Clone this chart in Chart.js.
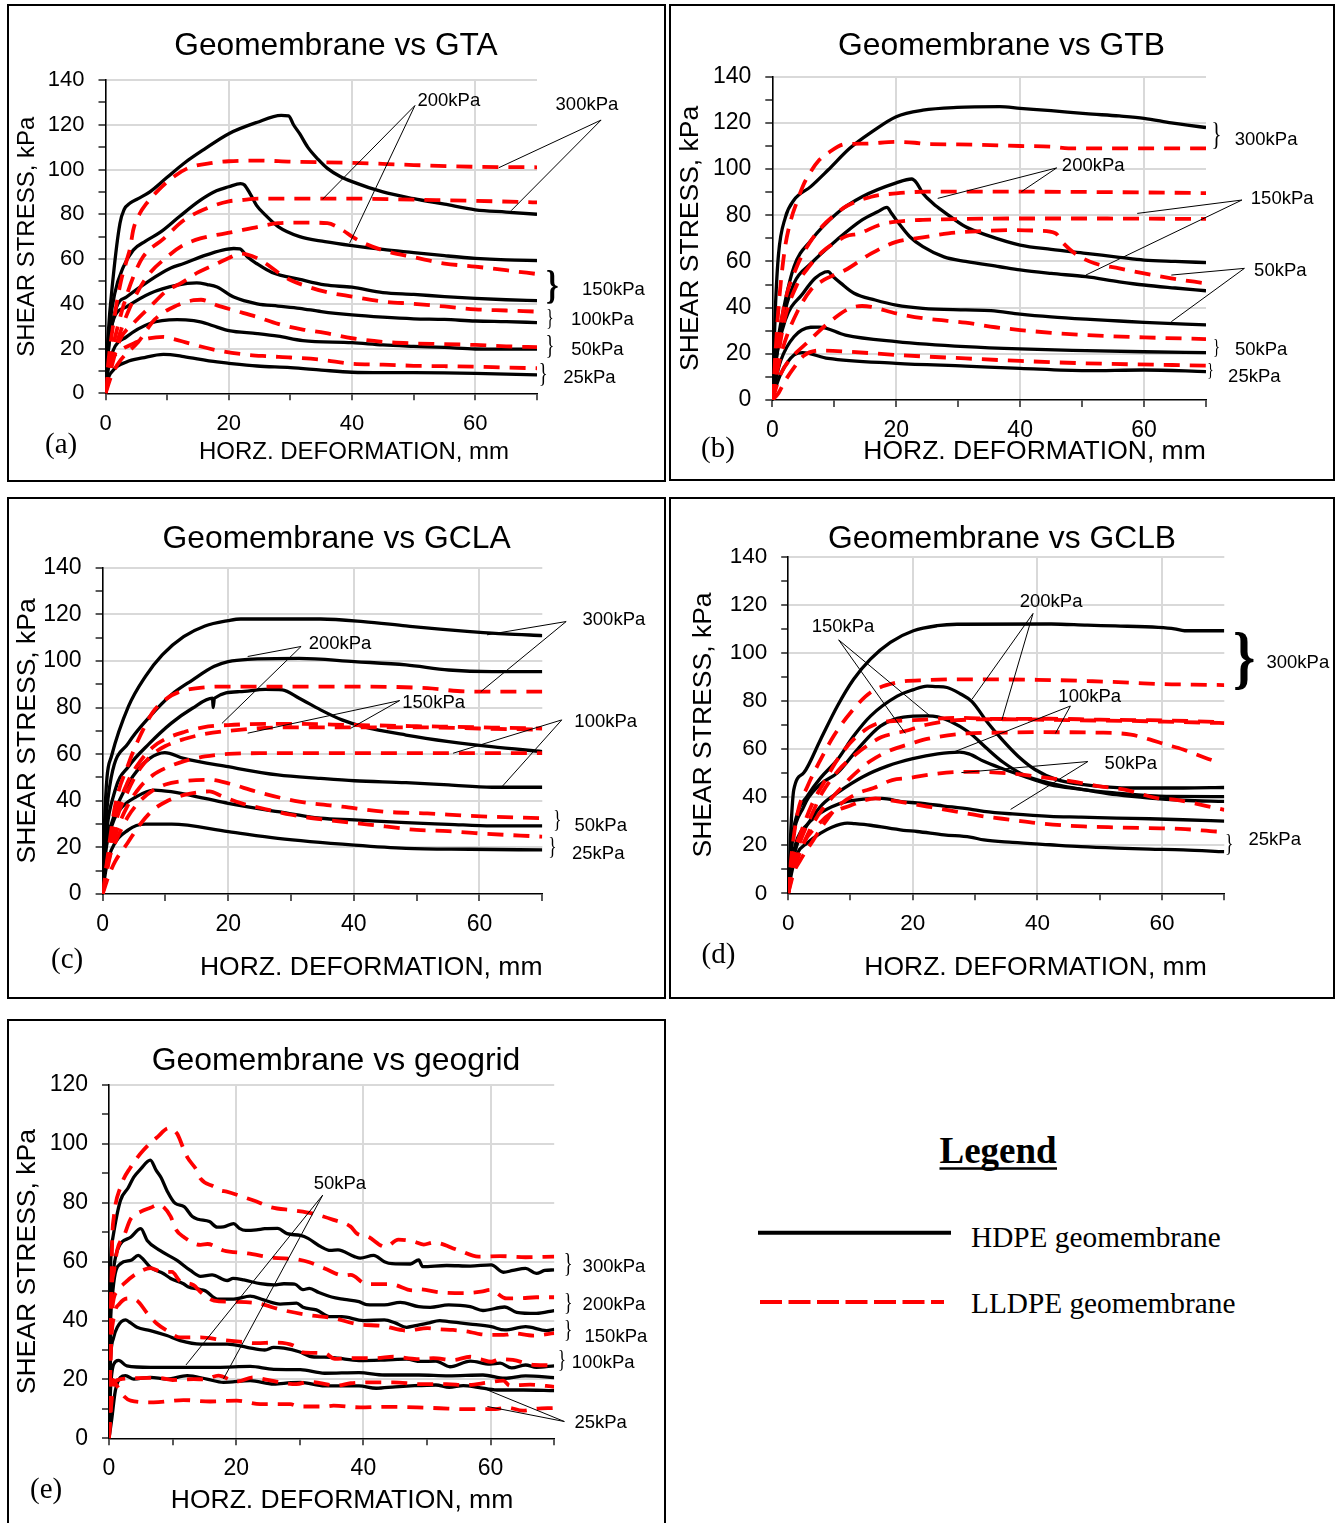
<!DOCTYPE html>
<html>
<head>
<meta charset="utf-8">
<script src="https://cdn.jsdelivr.net/npm/chart.js@4.4.1/dist/chart.umd.min.js"></script>
<style>
  html, body { margin: 0; padding: 0; background: #fff; overflow: hidden; }
  body { width: 1338px; height: 1523px; position: relative; }
  .panel { position: absolute; border: 2px solid #000; box-sizing: border-box; background: #fff; }
  .panel canvas { position: absolute; left: 0; top: 0; }
  #legend { position: absolute; left: 700px; top: 1100px; }
</style>
</head>
<body>
<div class="panel" style="left:7px;top:4px;width:659px;height:478px"><canvas id="cA" width="655" height="474"></canvas></div>
<div class="panel" style="left:669px;top:4px;width:666px;height:477px"><canvas id="cB" width="662" height="473"></canvas></div>
<div class="panel" style="left:7px;top:497px;width:659px;height:502px"><canvas id="cC" width="655" height="498"></canvas></div>
<div class="panel" style="left:669px;top:497px;width:666px;height:502px"><canvas id="cD" width="662" height="498"></canvas></div>
<div class="panel" style="left:7px;top:1019px;width:659px;height:511px"><canvas id="cE" width="655" height="507"></canvas></div>

<svg id="legend" width="600" height="260" xmlns="http://www.w3.org/2000/svg">
  <text x="239.5" y="63" font-family="Liberation Serif, Times New Roman, serif" font-weight="bold" font-size="37" fill="#000">Legend</text>
  <line x1="239.5" y1="68.5" x2="357" y2="68.5" stroke="#000" stroke-width="2.5"/>
  <line x1="58" y1="132.7" x2="251" y2="132.7" stroke="#000" stroke-width="4"/>
  <text x="271" y="146.7" font-family="Liberation Serif, Times New Roman, serif" font-size="29.3" fill="#000">HDPE geomembrane</text>
  <line x1="60" y1="202" x2="244" y2="202" stroke="#ff0000" stroke-width="4" stroke-dasharray="22 6.5"/>
  <text x="271" y="213" font-family="Liberation Serif, Times New Roman, serif" font-size="29.3" fill="#000">LLDPE geomembrane</text>
</svg>

<script>
// ---------- Geomembrane vs GTA : [horizontal deformation mm, shear stress kPa] ----------
const GTA_HDPE_300 = [[0,0],[0.4,25],[1.25,52],[2.35,76],[3,82],[4,85],[5.3,87],[7.2,90],[10,96.5],[12.7,102.7],[16,109],[20,116],[24.5,121],[28.5,124.2],[29.7,124],[30.5,120],[31.5,116],[32.8,110],[34.5,104.5],[36,100.5],[38,97],[40,94.6],[45,90],[50,87],[55,84.5],[60,82],[65,81],[70,80]];
const GTA_LLDPE_300 = [[0,0],[0.5,15],[1.5,35],[2.5,50],[3.5,60],[4,65],[4.5,73],[5.5,80],[6.7,85],[8.3,90],[10,94.5],[13.2,100.4],[17.5,103],[20,103.7],[25,104],[30,103.5],[40,103],[50,102],[60,101.2],[70,101]];
const GTA_HDPE_200 = [[0,0],[0.5,25],[1.5,44.6],[2.9,56.5],[4.5,64],[6.5,68],[8.9,72],[12,79],[15.4,86.3],[18,90.5],[20,92.3],[21.9,93.7],[22.5,93.2],[23.5,89],[24.5,84],[26,79.5],[28,74.5],[31.5,70],[35.6,67.8],[40,66],[45,64.3],[50,62.9],[55,61.5],[60,60.3],[65,59.6],[70,59.3]];
const GTA_LLDPE_200 = [[0,0],[1,18],[2,30],[3,40],[4.5,52],[6.1,61],[9.4,69],[12.7,77.3],[17,83.3],[20,85.8],[21.9,86.3],[25,87],[30,87],[40,87],[50,86.5],[60,86],[70,85.3]];
const GTA_HDPE_150 = [[0,0],[0.5,20],[1.8,38.6],[3.4,43],[7.2,50.5],[10.6,56],[12.7,58],[16,61.5],[19,64],[20.8,64.7],[21.8,64.5],[23,61],[24.5,58],[27,54],[31.5,50.9],[35.6,48.4],[40,47.4],[45,45],[50,44.2],[55,43.2],[60,42.4],[65,41.8],[70,41.4]];
const GTA_LLDPE_150 = [[0,0],[1,14],[2,24],[4,38.6],[6.7,52],[10,61],[12.5,66],[15.4,69.2],[20.8,72.1],[24.6,74.3],[28,76],[32,76.3],[36,76],[38.4,73],[40,70],[42,67],[45.3,63.7],[50,60.8],[55,58],[60,56.6],[65,55],[70,53.3]];
const GTA_HDPE_100 = [[0,0],[0.4,18],[1.25,32.6],[3.4,38.6],[7.2,44.6],[11.6,48.3],[14.8,49.3],[16.5,48.6],[18.1,47.5],[20.8,43],[24.6,40],[28,39],[31.5,38],[35,36.5],[40,35],[45,34],[50,33.3],[55,33],[60,32.3],[65,32],[70,31.6]];
const GTA_LLDPE_100 = [[0,0],[1,12],[2.3,23.7],[4.5,31.2],[7.2,38.6],[10,46],[12.1,49],[15,54],[18.1,58],[20,60.5],[21.9,62.4],[23,62],[24.5,60.5],[26,58],[28,54],[30,50.6],[33,47.5],[35.6,45.4],[40,43.2],[45,41],[50,40],[55,38.8],[60,37.5],[65,37],[70,36.5]];
const GTA_HDPE_50 = [[0,0],[0.4,10],[1.25,19.2],[3.4,25.2],[7.2,31.2],[11.6,32.9],[13,32.8],[15.4,31.9],[18.1,29.6],[20,28],[24.6,26.7],[28,25.5],[32,23.5],[40,22.6],[45,21.6],[50,21],[55,20.5],[60,19.8],[65,19.7],[70,19.7]];
const GTA_LLDPE_50 = [[0,0],[1,8],[2.5,15],[5.3,22.9],[8,33],[11.6,39.3],[14.3,41.6],[15.5,41.8],[18.1,39.3],[20.8,37.1],[24.6,34.1],[28,31],[32,28.5],[35.6,27],[40,24.6],[45,23],[50,22.3],[55,22],[60,21.6],[65,21],[70,20.6]];
const GTA_HDPE_25 = [[0,0],[0.2,4.3],[1.25,10.3],[3.4,14],[6,15.8],[9.4,17.4],[10.5,17.3],[12.7,16.4],[18.1,14],[20,13.4],[24.6,12.2],[30,11.5],[35,10.4],[40,9.4],[45,9.2],[50,9.2],[55,9.1],[60,8.9],[65,8.6],[70,8.2]];
const GTA_LLDPE_25 = [[0,0],[0.7,13.3],[1.8,17.7],[4.5,22.2],[7,24.5],[9.4,25.2],[11,24.3],[13.7,22.2],[18.1,19.2],[22.4,17.4],[26,16.6],[30,16],[35,15],[40,13.2],[45,12.8],[50,12.3],[55,12.1],[60,11.9],[65,11.5],[70,11.2]];

// ---------- Geomembrane vs GTB ----------
const GTB_HDPE_300 = [[0,0],[0.5,40],[1,63],[2.1,79],[3.5,86.6],[6.2,92.4],[9,99.6],[12.5,109],[16,116],[20,122.7],[24.3,125.5],[29.8,126.7],[36.7,127],[40,126.3],[45,125.3],[50.6,124],[56,123],[60,122],[64.4,120],[67,119],[70,118]];
const GTB_LLDPE_300 = [[0,0],[0.5,20],[1,40],[2,65],[3,78],[4,86],[5,93],[6,98],[7.6,104],[9,107],[11.8,110.8],[15,111],[20,111.8],[23,111.4],[25,110.8],[30,110.7],[40,110],[45,109.7],[47.8,109],[50,109],[60,109],[70,109]];
const GTB_HDPE_200 = [[0,0],[0.5,18],[1.5,35],[3.5,57.7],[6.2,69],[10.4,80.8],[14.5,88],[20,94],[22.5,95.7],[23.3,94],[24.3,89.5],[26,85],[27.7,81.5],[31.2,75],[34.6,71.4],[40,67.1],[45,65.2],[50.6,63.5],[56,61.8],[60,60.6],[65,60],[70,59.5]];
const GTB_LLDPE_200 = [[0,0],[1,25],[2,42],[4,58],[6,68],[8,75],[10,80],[12,84],[16,88],[20,89.5],[25,90.2],[40,90.2],[55,90],[70,89.6]];
const GTB_HDPE_150 = [[0,0],[0.5,15],[1.5,32],[3.5,50.5],[6.2,59],[10.4,69.3],[14.5,78],[17,81.5],[18.5,83.4],[19.2,81],[20,78],[22.2,70.7],[24.3,66.4],[27.7,62],[31.2,60],[36.7,57.7],[40,56.3],[45,54.8],[50.6,53.4],[56,51.2],[60,49.8],[65,48.5],[70,47.3]];
const GTB_LLDPE_150 = [[0,0],[1,20],[2,35],[4,50],[6,58],[8,64],[10,68],[12,71],[13.9,72],[17.3,75.8],[20,77.2],[24.3,78],[31.2,78.4],[38,78.6],[50,78.6],[70,78.4]];
const GTB_HDPE_100 = [[0,0],[0.5,15],[2.1,34.6],[4.9,46],[6.9,52.7],[8.5,55.4],[9,55.6],[9.8,53.5],[11.1,50.5],[13.2,46.2],[16.6,43.3],[20,41.1],[24.3,39.7],[31.2,39],[35.3,38.7],[40,37.2],[45,36],[50.6,35],[56,34.2],[60,33.6],[70,32.5]];
const GTB_LLDPE_100 = [[0,0],[1,15],[2,25],[4,38],[6.2,47.6],[8,51.5],[11.8,56.3],[16,63.5],[20,68.5],[24.3,70.4],[28.4,72.2],[34,73.2],[38,73.6],[43,73.3],[45.7,72.2],[47,67.8],[49.2,62.8],[52,59.2],[56,57],[60,54.8],[64.4,52.7],[70,50.5]];
const GTB_HDPE_50 = [[0,0],[0.5,8],[1.4,17.3],[3.5,27.4],[6.2,31.5],[7.6,31.6],[11.8,28.1],[20,25.3],[31.2,23.1],[40,22.1],[50.6,21.4],[60,20.9],[70,20.5]];
const GTB_LLDPE_50 = [[0,0],[1.4,11.5],[3,18],[5.5,24.5],[9,33.2],[12.5,39.7],[14.5,40.7],[16,40.3],[20,37.5],[24.3,35.4],[31.2,33.5],[36,31.5],[40,30.3],[45,29.1],[50.6,28.1],[60,27.1],[70,26.4]];
const GTB_HDPE_25 = [[0,0],[0.5,5],[1.4,11.5],[3.5,19.5],[4.9,20.5],[9,18],[20,15.9],[31.2,14.7],[40,13.7],[50.6,12.7],[60,13],[70,12.3]];
const GTB_LLDPE_25 = [[0,0],[1,3],[2,8],[3.5,14],[5,19],[7.6,21.4],[11.8,21],[20,19.5],[31.2,18],[40,16.9],[50.6,15.9],[70,14.9]];

// ---------- Geomembrane vs GCLA ----------
const GCLA_HDPE_300 = [[0,0],[0.3,30],[0.7,50],[1.4,59],[4.1,80.4],[6.8,93.3],[9.5,102.6],[12.9,110.4],[16.3,115],[20,117.3],[22,118],[34.7,118],[41.5,116.9],[48.3,115],[53.7,113.6],[58.5,112.6],[64,111.6],[70,110.9]];
const GCLA_LLDPE_300 = [[0,0],[0.5,10],[2,38],[4,55],[6,68],[8,78],[10,83.5],[12,86.5],[16.3,88.7],[20,89],[30,89],[40,89],[51.7,88.3],[56.5,87.1],[62,86.8],[70,86.8]];
const GCLA_HDPE_200 = [[0,0],[0.5,30],[1.4,50.4],[4.1,64.7],[7.5,76.1],[10.9,85.4],[14.3,91.8],[17.7,97.6],[20,99.7],[23.1,100.7],[31.3,101.1],[40.1,99.7],[48.3,98.3],[55.1,96.1],[62,95.4],[70,95.4]];
const GCLA_LLDPE_200 = [[0,0],[1,18],[2,33],[4,48],[6,57],[8,63],[10,66.5],[13,69.5],[16,71.5],[20,72.5],[30,73],[40,72.5],[50,72],[60,71.5],[70,71]];
const GCLA_HDPE_150 = [[0,0],[0.4,20],[2,44.6],[4.1,54.6],[7.5,64.7],[10.9,73.2],[14.3,79.7],[17.5,84],[17.6,80],[17.8,84],[21.8,86.8],[25.9,87.8],[28.6,87.6],[31.3,84],[34.7,79],[38.1,74.7],[41.5,71.8],[48.3,68.2],[55.1,65.4],[61.9,63.2],[70,61.1]];
const GCLA_LLDPE_150 = [[0,0],[1,16],[2,30],[4,44],[6,54],[8,60],[10,63.5],[13,66.5],[16,68.5],[20,70],[30,71.5],[40,71.5],[50,71.5],[60,71],[70,70.5]];
const GCLA_HDPE_100 = [[0,0],[0.5,22],[1.4,30],[2.7,40.3],[4.8,50.4],[7.5,58.2],[9.9,60.7],[12.9,58.2],[20,54.6],[27.9,51.1],[34.7,49.6],[40.1,48.6],[48.3,47.8],[55.1,46.8],[62,45.8],[70,45.8]];
const GCLA_LLDPE_100 = [[0,0],[1,14],[2,25],[4,38],[6,46],[8,51],[10,54],[13,57],[16.3,59],[20,60.1],[25,60.4],[70,60.4]];
const GCLA_HDPE_50 = [[0,0],[0.5,18],[1.4,28.9],[2.7,36],[5.4,41.8],[8.2,44.6],[10.9,43.9],[16.3,41],[20,38.9],[27.9,35.3],[34.7,32.5],[40.1,31.8],[48.3,30.6],[55.1,29.9],[62,29.2],[70,29.2]];
const GCLA_LLDPE_50 = [[0,0],[1,15],[2,22],[4,33],[6,40],[8,44.5],[10,47],[13,48.5],[17,49],[20,47.5],[24.5,43.9],[31.3,39.6],[38.1,37.5],[44.9,35.3],[51.7,34.6],[58.5,33.5],[70,32.5]];
const GCLA_HDPE_25 = [[0,0],[0.5,10],[1.4,18.9],[4.1,27.5],[6.8,30],[11,30],[20,26.8],[27.9,23.9],[40.1,21],[48.3,19.6],[58.5,19.2],[70,18.9]];
const GCLA_LLDPE_25 = [[0,0],[1,8],[2,14],[4,22],[6,30],[8,36],[10,39.5],[13,42.5],[17,44],[19,42],[22,39],[25,37],[30,34],[35,32],[40,30.5],[45,29],[50,27.5],[55,27],[60,26],[70,24.6]];

// ---------- Geomembrane vs GCLB ----------
const GCLB_HDPE_300 = [[0,0],[0.5,30],[0.9,43.1],[2.5,50.1],[5.2,64],[7.9,77.9],[10.5,89],[13.2,97.4],[16.4,104.4],[20.1,109.2],[23.9,111.3],[27.1,111.9],[42.2,112],[48,111.5],[52.5,111.2],[59.4,110.6],[62,110],[63.6,109.2],[70,109.2]];
const GCLB_LLDPE_300 = [[0,0],[0.5,15],[1.5,33.4],[3.1,44.5],[5.2,55.6],[7.3,65.4],[10,75.1],[13.2,83.5],[17.5,87.7],[22.3,88.7],[27.1,89],[40,88.8],[48,88.3],[55,87.6],[60,87],[65,86.8],[70,86.6]];
const GCLB_HDPE_200 = [[0,0],[0.5,20],[1.5,33.4],[3,40.2],[5.2,48],[7.9,55.6],[10.5,65.4],[13.2,73.7],[17.5,82],[20,84.6],[22.3,86.2],[23.6,86],[25.5,85.6],[27.6,83],[29.5,79.7],[32,71],[34.3,64],[36.9,57],[39.6,51.5],[43.1,47.3],[47.4,45.2],[55.4,43.8],[63.4,43.8],[70,44]];
const GCLB_LLDPE_200 = [[0,0],[0.5,12],[2,25],[4,38],[5.7,45.9],[7.9,55.6],[10.5,64],[14.8,71],[20.1,72],[27.1,73],[34,72.5],[42,72.6],[50,72.2],[58,72],[65,71.6],[70,71.2]];
const GCLB_HDPE_150 = [[0,0],[0.5,18],[2.5,36.1],[5,45],[7.9,50.1],[11.1,59.8],[14.8,69.5],[18.5,73.3],[22.3,73.8],[24,73.4],[26,71.6],[29,67],[32,60],[34.5,54.5],[38,49],[42,45.8],[47.4,43.1],[52.7,41.7],[60.7,40.3],[70,40.2]];
const GCLB_LLDPE_150 = [[0,0],[0.5,10],[2,22],[4,34],[5.5,42],[8,51],[10,56],[13,62],[15,65],[17,66.5],[18.8,67.5],[22,70],[27,72],[35,72.4],[45,72],[55,71.7],[62,71.3],[70,70.8]];
const GCLB_HDPE_100 = [[0,0],[0.5,10],[1.5,20.8],[3.6,30.5],[5.5,37],[8,42],[12,48.5],[16,53],[20,56],[24,58],[27.5,58.7],[29,58],[31.4,54.9],[34,52.2],[37.8,48.7],[42,45.2],[47.4,43.1],[52.7,41],[58,39.6],[63.4,38.7],[70,38.2]];
const GCLB_LLDPE_100 = [[0,0],[0.5,8],[2,18],[4,29],[5.5,35],[8.9,45],[10,48],[13.2,55],[16,59],[20,62.5],[22.3,64.2],[28.7,66.5],[34,66.8],[40,67],[50.6,66.8],[55,66],[58,64],[60.5,62],[63.4,59.8],[67,56.3],[69,54.5]];
const GCLB_HDPE_50 = [[0,0],[0.5,12],[1.5,23],[3,28.5],[5.2,33.4],[7,36],[9.5,38.2],[13.2,39.4],[15,39.5],[18.5,38],[20.7,37.6],[25,36.3],[29.2,35],[31.4,34.1],[36,33],[42,32],[47,31.7],[52.7,31.3],[58,31],[63.4,30.6],[70,30]];
const GCLB_LLDPE_50 = [[0,0],[0.5,6],[2,14],[4,22],[5.5,28],[7.9,36],[11.2,41.6],[13.7,43.8],[16.7,47.1],[19.6,48],[23,49.5],[27.6,50.5],[30,50.5],[35.3,49.9],[40.2,48.5],[45.5,46.6],[50,44.5],[54,43.1],[59.4,39.5],[62,39],[67,36.4],[70,34.7]];
const GCLB_HDPE_25 = [[0,0],[0.5,8],[1.5,16.7],[3,20.8],[5.2,25],[7,27.5],[9.5,29.2],[10.5,29],[13.2,28.3],[18.5,26.2],[20.7,25.7],[25,24.3],[29.2,23.4],[31.4,22.2],[36,21.2],[42,20.2],[47,19.4],[52.7,18.8],[58,18.4],[63.4,18.1],[70,17.3]];
const GCLB_LLDPE_25 = [[0,0],[0.5,5],[1,10],[2.5,20.9],[4.6,28],[7,33.5],[10,36.5],[12,38.5],[14,39.5],[15.1,39.2],[18,38],[23,35.8],[27,34],[31.4,32],[36,30.5],[39.9,29.2],[47.4,27.8],[53,27.4],[58,27.1],[63,26.8],[68.7,25.7],[70,25.5]];

// ---------- Geomembrane vs geogrid ----------
const GEO_HDPE_300 = [[0,0],[0.2,55],[0.6,68],[1.8,80.8],[3,85],[3.9,88.7],[5,91.5],[6.5,94.5],[7.4,91.1],[8.2,88.5],[9.1,84.2],[10.4,79.8],[11.8,78.7],[13.1,75.3],[14,74.4],[15.8,73.6],[17,71.7],[18,71.8],[19.6,72.9],[20.5,71.3],[21.5,70.6],[23.2,70.8],[24.5,71.2],[26.5,71.3],[28,69.5],[30.1,68.9],[31.3,67.9],[33.3,65.1],[34.8,63.8],[36,64],[38.6,61.7],[39.5,61.2],[41.6,62.1],[43.3,60],[44.5,59.3],[47.4,59.2],[48.7,60.6],[49.3,58.3],[53.1,58.7],[56.8,58.5],[60.1,58.9],[62,56.4],[63.5,57],[65.5,57.7],[67.2,56],[68.5,57],[70,57.2]];
const GEO_LLDPE_300 = [[0,0],[0.3,40],[0.5,67],[0.75,75],[1.8,85.3],[3.4,92.1],[5.4,97.8],[7.6,102.3],[9.4,105.3],[9.8,105.1],[10.7,103.5],[11.8,97.9],[12.3,95.5],[13.8,91],[14.4,88.2],[16.5,85.5],[17.5,84.2],[18.5,83.8],[21.2,81.9],[23.2,80.4],[25.4,78.5],[29,77.4],[31.9,76.4],[35.3,74.2],[38,71.9],[39,69.5],[40.7,68.5],[43.5,65],[45.5,67.5],[48,66.8],[49.5,65.8],[51,66.5],[54.8,64],[58.1,61.7],[61.5,61.9],[65.5,61.5],[70,61.7]];
const GEO_HDPE_200 = [[0,0],[0.2,40],[0.6,55],[1.3,63.8],[3.4,68.3],[5,71.2],[6,67.2],[8,63.8],[10.7,60.4],[12.8,57],[14.4,55],[16.2,55.5],[18.6,53.6],[19.5,54.3],[21.2,53.8],[23.8,52.5],[25.9,52.1],[27.5,52.5],[29.2,52.4],[30.5,50.5],[31.5,50.9],[33,49.5],[35,48],[37,47.2],[39.3,46.4],[40.5,45.4],[43.3,45.3],[45.8,46.2],[48.7,44.7],[50.5,44.5],[53.4,45.3],[56.8,44.7],[58.8,43.4],[62.2,44.6],[64.1,42.8],[67.2,42.4],[70,43.4]];
const GEO_LLDPE_200 = [[0,0],[0.3,45],[0.8,57],[1.3,64],[2.4,69],[3.4,74.5],[5,77],[6.5,78.3],[7.8,79.3],[8.6,78.5],[9.7,75.3],[10.5,71],[11.8,68.3],[14.4,65.7],[15.5,66],[18,63.8],[21.8,62.8],[25.9,61.3],[29.5,60.8],[31.5,59.8],[33.9,57.7],[36.9,55.3],[38,55.5],[40.5,52.4],[44.2,52.4],[47.8,50.2],[48.7,50.6],[52,49.6],[55.7,49.3],[58.5,49.8],[60,50.4],[62.5,47.5],[65,47.6],[67.2,47.9],[70,47.9]];
const GEO_HDPE_150 = [[0,0],[0.2,35],[0.6,50],[1.8,59.3],[3.4,60.4],[4.6,62.1],[5.3,61],[6.5,58.1],[8.6,55.9],[9.7,54.3],[11.7,52.5],[12.4,51.5],[14.4,50.5],[15.2,50],[17,47.3],[19.6,47.3],[22.2,48.3],[24.3,47],[26.9,45.6],[29.5,45.9],[30.5,44.5],[32.6,43.6],[34.8,41.3],[36.6,41.3],[40,40],[43.3,40.2],[45,39.2],[46.8,37.7],[48,38.2],[50.1,39.1],[52,40],[53.4,39.6],[56.8,38.8],[60.1,37.9],[62.2,36.8],[65.5,37.9],[68.8,36.6],[70,37]];
const GEO_LLDPE_150 = [[0,0],[0.3,38],[1.3,50],[2.4,52.6],[4.4,56],[6.5,57.8],[8.4,56.5],[9.9,56.5],[11.1,53.5],[13.3,52],[14.5,49.5],[16.5,46.8],[19.2,46.4],[23.2,45.9],[27.2,43.6],[31.3,41.9],[35.3,40.8],[39,38.8],[43.1,38.1],[46.8,36.6],[50.1,37.4],[52,37],[54.1,36.8],[56.8,36.1],[58.3,35.4],[60.1,35.1],[62.5,35.2],[63.5,35.7],[66.7,34.9],[70,35.7]];
const GEO_HDPE_100 = [[0,0],[0.2,25],[0.7,34],[1.3,37.7],[2.6,40.2],[3.2,39.5],[4.4,37.7],[6.5,36.6],[9.1,34.9],[11.2,33.2],[14.4,32],[18.6,32],[21.7,30.9],[24.5,30],[25.9,30.9],[27.5,30.6],[29.9,29.4],[31.9,27.7],[34.8,27.5],[36,27.2],[39.3,26.4],[43.3,26.6],[46.8,26.9],[49,26.1],[51.4,26.2],[53.6,24.3],[56.8,26.2],[59.9,25.2],[61.5,25.5],[63.3,23.9],[65.5,24.9],[67.2,24.1],[70,24.6]];
const GEO_LLDPE_100 = [[0,0],[0.3,30],[0.75,41.1],[1.7,45.8],[3,47.5],[4.4,46.8],[6,42.5],[7.5,39],[9.1,36.6],[11.2,34.3],[14.4,34.3],[17.8,33.4],[20.5,32.8],[23.2,32.3],[25.9,32.5],[29,31.5],[30.5,29.2],[33.9,28.9],[35.5,27],[38,27.2],[42,27.2],[44.7,27.7],[48.4,26.9],[51,27.2],[54.1,26.6],[56.8,27.7],[58.5,26.8],[60.1,26],[61.4,26.9],[63.5,26.6],[66.9,24.9],[70,24.8]];
const GEO_HDPE_50 = [[0,0],[0.2,15],[0.75,25.2],[1.5,26.5],[2.8,24.6],[6.5,24.1],[11.8,24.1],[17,24.1],[22.2,24.4],[25.9,23.4],[30.1,23.3],[33.9,22.1],[39.3,22.3],[43.3,21.5],[48.7,21.5],[53.4,21.2],[58.8,21.5],[62.2,20.4],[65.5,21.2],[70,20.6]];
const GEO_LLDPE_50 = [[0,0],[0.3,10],[0.75,18.4],[1.7,20],[4,20.4],[7.8,20.5],[10,19.8],[13.3,20.1],[15.1,20],[17.2,21.3],[20,19.2],[22.7,20.7],[24.5,20],[29.5,18.4],[31.5,19.2],[35.8,17.9],[38,18.7],[41.6,19],[44.7,19],[48.9,18.4],[53.1,18.4],[56,18.1],[59.5,18.9],[62,19.6],[63,17.9],[66.2,18.2],[70,17.5]];
const GEO_HDPE_25 = [[0,0],[0.4,6],[1,16.2],[1.8,20.7],[2.6,21.3],[3.9,20.1],[6.5,20.7],[9.1,20.1],[12.3,21.3],[15.4,20.1],[18,19],[22.2,19.6],[25.9,18.4],[28.6,18.9],[30.1,19],[33.9,17.8],[39.3,17.8],[42,17],[45,17.5],[47.4,17.8],[51.4,18.1],[53.5,17.3],[55.7,17.9],[58,17.3],[61,16.4],[65.1,16.4],[70,16.2]];
const GEO_LLDPE_25 = [[0,0],[0.3,12],[0.6,19.8],[1.2,18],[2.4,14.2],[3.4,12.8],[7,12.2],[11.7,13],[15.9,12.5],[20.1,12.8],[23.8,11.6],[28.5,11.6],[29.9,10.8],[33.9,10.8],[35.3,11.1],[39.5,10.5],[43.6,10.7],[48.4,10.5],[52,10.2],[56.2,9.9],[60.8,9.9],[62.5,10.5],[65.1,9.4],[67,10],[70,10.3]];

// ---------- labels ----------
const TITLES = ['Geomembrane vs GTA', 'Geomembrane vs GTB', 'Geomembrane vs GCLA', 'Geomembrane vs GCLB', 'Geomembrane vs geogrid'];
const LETTERS = ['(a)', '(b)', '(c)', '(d)', '(e)'];
const Y_TITLE = 'SHEAR STRESS, kPa';
const X_TITLE = 'HORZ. DEFORMATION, mm';

const SANS = '"Liberation Sans", Arial, Helvetica, sans-serif';
const SERIF = '"Liberation Serif", "Times New Roman", serif';

const toPoints = arr => arr.map(p => ({ x: p[0], y: p[1] }));
const gridColor = ctx => (ctx.tick && ctx.tick.value > 0 && ctx.tick.value % 20 === 0) ? '#d9d9d9' : 'rgba(0,0,0,0)';
const every20 = v => (v % 20 === 0 ? String(v) : '');

// Titles, the panel letter, pressure call-outs with leader lines and braces.
function decorPlugin(d) {
  return {
    id: 'decor',
    afterDraw(chart) {
      const ctx = chart.ctx;
      const xs = chart.scales.x, ys = chart.scales.y;
      const px = v => xs.getPixelForValue(v);
      const py = v => ys.getPixelForValue(v);
      ctx.save();
      ctx.fillStyle = '#000';
      ctx.textBaseline = 'alphabetic';
      ctx.textAlign = 'center';
      ctx.font = d.titleSize + 'px ' + SANS;
      ctx.fillText(d.title, d.titleX, d.titleY);
      ctx.font = d.axisSize + 'px ' + SANS;
      ctx.fillText(X_TITLE, d.xTitleX, d.xTitleY);
      ctx.textAlign = 'left';
      ctx.font = '29px ' + SERIF;
      ctx.fillText(d.letter, d.letterX, d.letterY);

      ctx.strokeStyle = '#000';
      ctx.lineWidth = 1;
      for (const n of d.notes) {
        for (const t of n.to) {
          ctx.beginPath();
          ctx.moveTo(px(n.from[0]), py(n.from[1]));
          ctx.lineTo(px(t[0]), py(t[1]));
          ctx.stroke();
        }
      }
      ctx.textAlign = 'center';
      ctx.textBaseline = 'middle';
      ctx.font = '18.5px ' + SANS;
      for (const n of d.notes) ctx.fillText(n.text, px(n.at[0]), py(n.at[1]));

      for (const b of d.braces) {
        const yTop = py(b.top), yBot = py(b.bottom);
        const fs = (yBot - yTop) / 0.87;
        ctx.save();
        ctx.translate(px(b.x), yBot - 0.18 * fs);
        ctx.scale(b.bold ? 0.8 : 0.7, 1);
        ctx.textAlign = 'center';
        ctx.textBaseline = 'alphabetic';
        ctx.font = (b.bold ? 'bold ' : '') + fs.toFixed(1) + 'px ' + SERIF;
        ctx.fillText('}', 0, 0);
        ctx.restore();
        ctx.textAlign = 'center';
        ctx.textBaseline = 'middle';
        ctx.font = '18.5px ' + SANS;
        ctx.fillText(b.text, px(b.at[0]), py(b.at[1]));
      }
      ctx.restore();
    }
  };
}

function buildPanel(id, p) {
  const datasets = [];
  // dashed LLDPE curves first: Chart.js paints the first dataset last, so they sit on top
  p.lldpe.forEach(s => datasets.push({
    data: toPoints(s), borderColor: '#ff0000', borderWidth: 3.8, borderDash: [16, 10],
    borderCapStyle: 'butt', pointRadius: 0, fill: false, cubicInterpolationMode: 'monotone'
  }));
  p.hdpe.forEach(s => datasets.push({
    data: toPoints(s), borderColor: '#000000', borderWidth: 3.3, borderJoinStyle: 'round',
    pointRadius: 0, fill: false, cubicInterpolationMode: 'monotone'
  }));
  const tickFont = { family: SANS, size: p.tickSize };
  const grid = { color: gridColor, lineWidth: 2, tickLength: 7, tickColor: '#000', tickWidth: 1.3 };
  const border = { color: '#000', width: 1.6 };
  new Chart(document.getElementById(id), {
    type: 'line',
    data: { datasets },
    options: {
      responsive: false, animation: false, devicePixelRatio: 1, events: [],
      layout: { padding: { left: p.padL, right: p.padR, top: p.padT, bottom: 0 } },
      plugins: { legend: { display: false }, tooltip: { enabled: false }, title: { display: false } },
      scales: {
        x: {
          type: 'linear', min: 0, max: 70,
          afterFit: s => { s.height = p.xH; },
          ticks: { stepSize: 10, autoSkip: false, maxRotation: 0, padding: 10, color: '#000', font: tickFont, callback: every20 },
          grid, border
        },
        y: {
          type: 'linear', min: 0, max: p.yMax,
          afterFit: s => { s.width = p.yW; },
          ticks: { stepSize: 10, autoSkip: false, padding: 14, color: '#000', font: tickFont, callback: every20 },
          grid, border,
          title: { display: true, text: Y_TITLE, color: '#000', font: { family: SANS, size: p.axisSize }, padding: 0 }
        }
      }
    },
    plugins: [decorPlugin(p.decor)]
  });
}

buildPanel('cA', {
  hdpe: [GTA_HDPE_300, GTA_HDPE_200, GTA_HDPE_150, GTA_HDPE_100, GTA_HDPE_50, GTA_HDPE_25],
  lldpe: [GTA_LLDPE_300, GTA_LLDPE_200, GTA_LLDPE_150, GTA_LLDPE_100, GTA_LLDPE_50, GTA_LLDPE_25],
  yMax: 140, padL: 4, padR: 127, padT: 74, yW: 92.5, xH: 86.7, tickSize: 22, axisSize: 24,
  decor: {
    title: TITLES[0], titleX: 327, titleY: 49, titleSize: 31.7, axisSize: 24,
    xTitleX: 345, xTitleY: 453, letter: LETTERS[0], letterX: 36, letterY: 447,
    notes: [
      { text: '200kPa', at: [55.7, 130.6], from: [50.2, 128.6], to: [[35.2, 86.7], [39.6, 67.1]] },
      { text: '300kPa', at: [78.1, 128.8], from: [80.4, 122.1], to: [[63.8, 100.8], [65.8, 81.6]] }
    ],
    braces: [
      { x: 72.5, top: 54.8, bottom: 39.2, bold: true, text: '150kPa', at: [82.4, 46.4] },
      { x: 72.1, top: 37.2, bottom: 28.6, text: '100kPa', at: [80.6, 33] },
      { x: 72.1, top: 26, bottom: 15.6, text: '50kPa', at: [79.8, 19.6] },
      { x: 71, top: 13.4, bottom: 3, text: '25kPa', at: [78.5, 7.1] }
    ]
  }
});

buildPanel('cB', {
  hdpe: [GTB_HDPE_300, GTB_HDPE_200, GTB_HDPE_150, GTB_HDPE_100, GTB_HDPE_50, GTB_HDPE_25],
  lldpe: [GTB_LLDPE_300, GTB_LLDPE_200, GTB_LLDPE_150, GTB_LLDPE_100, GTB_LLDPE_50, GTB_LLDPE_25],
  yMax: 140, padL: 4.1, padR: 127, padT: 70.7, yW: 97.2, xH: 79, tickSize: 23, axisSize: 26.5,
  decor: {
    title: TITLES[1], titleX: 330.5, titleY: 49, titleSize: 31.8, axisSize: 26.5,
    xTitleX: 363.5, xTitleY: 453, letter: LETTERS[1], letterX: 30, letterY: 451,
    notes: [
      { text: '200kPa', at: [51.8, 101.5], from: [45.9, 100.5], to: [[26.7, 87.3], [40.2, 90.2]] },
      { text: '150kPa', at: [82.3, 87.2], from: [75.8, 86.6], to: [[58.9, 80.8], [50.6, 54.1]] },
      { text: '50kPa', at: [82, 56.1], from: [76.2, 57], to: [[64.4, 54.1], [64.4, 33.9]] }
    ],
    braces: [
      { x: 71.7, top: 119.8, bottom: 108.2, text: '300kPa', at: [79.7, 112.6] },
      { x: 71.7, top: 26.7, bottom: 18.8, text: '50kPa', at: [78.9, 21.6] },
      { x: 70.7, top: 15.9, bottom: 8.7, text: '25kPa', at: [77.8, 10.1] }
    ]
  }
});

buildPanel('cC', {
  hdpe: [GCLA_HDPE_300, GCLA_HDPE_200, GCLA_HDPE_150, GCLA_HDPE_100, GCLA_HDPE_50, GCLA_HDPE_25],
  lldpe: [GCLA_LLDPE_300, GCLA_LLDPE_200, GCLA_LLDPE_150, GCLA_LLDPE_100, GCLA_LLDPE_50, GCLA_LLDPE_25],
  yMax: 140, padL: 3.1, padR: 121.7, padT: 68.7, yW: 90.5, xH: 103, tickSize: 23, axisSize: 26.5,
  decor: {
    title: TITLES[2], titleX: 327.6, titleY: 49.3, titleSize: 31.8, axisSize: 26.5,
    xTitleX: 362.2, xTitleY: 476, letter: LETTERS[2], letterX: 42, letterY: 469,
    notes: [
      { text: '300kPa', at: [81.4, 117.6], from: [73.8, 116.9], to: [[61.2, 111.2], [60.2, 86.8]] },
      { text: '200kPa', at: [37.8, 107.3], from: [31.6, 106.2], to: [[23.1, 101.9], [19, 73.2]] },
      { text: '150kPa', at: [52.7, 81.8], from: [47.3, 83], to: [[23.1, 69], [39.5, 71.1]] },
      { text: '100kPa', at: [80.1, 74], from: [73.1, 74.7], to: [[55.8, 60.4], [63.6, 46.1]] }
    ],
    braces: [
      { x: 72.4, top: 36, bottom: 26.8, text: '50kPa', at: [79.3, 29.2] },
      { x: 71.6, top: 24.6, bottom: 15.3, text: '25kPa', at: [78.9, 17] }
    ]
  }
});

buildPanel('cD', {
  hdpe: [GCLB_HDPE_300, GCLB_HDPE_200, GCLB_HDPE_150, GCLB_HDPE_100, GCLB_HDPE_50, GCLB_HDPE_25],
  lldpe: [GCLB_LLDPE_300, GCLB_LLDPE_200, GCLB_LLDPE_150, GCLB_LLDPE_100, GCLB_LLDPE_50, GCLB_LLDPE_25],
  yMax: 140, padL: 16.6, padR: 108.7, padT: 57.7, yW: 100.6, xH: 103.7, tickSize: 22.5, axisSize: 26.5,
  decor: {
    title: TITLES[3], titleX: 331, titleY: 49.3, titleSize: 31.8, axisSize: 26.5,
    xTitleX: 364.5, xTitleY: 476, letter: LETTERS[3], letterX: 30.5, letterY: 464,
    notes: [
      { text: '200kPa', at: [42.2, 121], from: [39.3, 116.4], to: [[29.5, 80.7], [34.3, 72.1]] },
      { text: '150kPa', at: [8.8, 110.9], from: [8.1, 105.4], to: [[18.8, 66.5], [22.9, 73.5]] },
      { text: '100kPa', at: [48.4, 81.8], from: [45.3, 77.9], to: [[26.7, 58.9], [42.9, 66.5]] },
      { text: '50kPa', at: [55, 53.8], from: [48.1, 54.8], to: [[27.8, 50.2], [35.7, 34.9]] }
    ],
    braces: [
      { x: 73.2, top: 108.8, bottom: 83.2, bold: true, text: '300kPa', at: [81.8, 95.9] },
      { x: 70.8, top: 25, bottom: 15.9, text: '25kPa', at: [78.1, 22.1] }
    ]
  }
});

buildPanel('cE', {
  hdpe: [GEO_HDPE_300, GEO_HDPE_200, GEO_HDPE_150, GEO_HDPE_100, GEO_HDPE_50, GEO_HDPE_25],
  lldpe: [GEO_LLDPE_300, GEO_LLDPE_200, GEO_LLDPE_150, GEO_LLDPE_100, GEO_LLDPE_50, GEO_LLDPE_25],
  yMax: 120, padL: 3.1, padR: 109.8, padT: 64, yW: 96.9, xH: 89.7, tickSize: 23, axisSize: 26.5,
  decor: {
    title: TITLES[4], titleX: 327, titleY: 49, titleSize: 31.9, axisSize: 26.5,
    xTitleX: 333, xTitleY: 487.3, letter: LETTERS[4], letterX: 21, letterY: 477,
    notes: [
      { text: '50kPa', at: [36.3, 86.4], from: [33.6, 82.6], to: [[12.1, 24.9], [18, 20.2]] },
      { text: '25kPa', at: [77.3, 5.1], from: [71.6, 5.7], to: [[59.5, 16.4], [59.5, 10.8]] }
    ],
    braces: [
      { x: 72.2, top: 62.8, bottom: 54.9, text: '300kPa', at: [79.4, 58.3] },
      { x: 72.2, top: 49.5, bottom: 41.9, text: '200kPa', at: [79.4, 45.3] },
      { x: 72.2, top: 40.2, bottom: 32.8, text: '150kPa', at: [79.7, 34.4] },
      { x: 71.2, top: 30, bottom: 22.6, text: '100kPa', at: [77.7, 25.6] }
    ]
  }
});
</script>
</body>
</html>
